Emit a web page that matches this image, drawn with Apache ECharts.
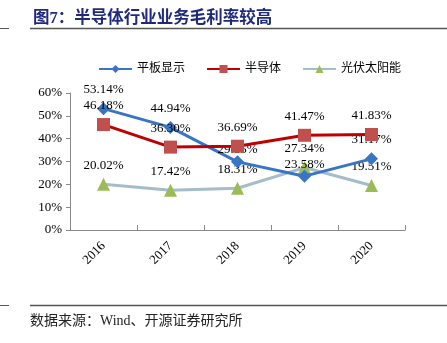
<!DOCTYPE html>
<html><head><meta charset="utf-8">
<script src="https://cdn.jsdelivr.net/npm/echarts@6/dist/echarts.min.js"></script>
<style>html,body{margin:0;padding:0;background:#fff}#c{width:447px;height:343px}</style>
</head><body><div id="c"></div>
<script>
const categories = ['2016','2017','2018','2019','2020'];
const seriesNames = ['平板显示','半导体','光伏太阳能'];
const panel = [53.14, 44.94, 29.85, 23.58, 31.17];
const semi = [46.18, 36.30, 36.69, 41.47, 41.83];
const solar = [20.02, 17.42, 18.31, 27.34, 19.51];
const yTicks = [0,10,20,30,40,50,60];

const serif = '"Times New Roman","Liberation Serif","Noto Sans CJK SC",serif';
const cjk = '"Liberation Serif","Noto Sans CJK SC",serif';
const chart = echarts.init(document.getElementById('c'));
function lbl(extra){return Object.assign({show:true,position:'top',distance:6,color:'#000',fontFamily:serif,fontSize:13,formatter:p=>p.value.toFixed(2)+'%'},extra||{});}
chart.setOption({
  animation:false,
  title:{text:'图7：半导体行业业务毛利率较高',left:28,top:5,textStyle:{fontFamily:cjk,fontSize:16.5,fontWeight:'bold',color:'#1F2A7C'}},
  graphic:[
    {type:'line',shape:{x1:0,y1:28.5,x2:9,y2:28.5},style:{stroke:'#555',lineWidth:1}},
    {type:'line',shape:{x1:30,y1:28.5,x2:447,y2:28.5},style:{stroke:'#555',lineWidth:1.5}},
    {type:'line',shape:{x1:0,y1:305.5,x2:9,y2:305.5},style:{stroke:'#555',lineWidth:1}},
    {type:'line',shape:{x1:30,y1:305.5,x2:447,y2:305.5},style:{stroke:'#555',lineWidth:1.5}},
    {type:'text',left:30,top:314,style:{text:'数据来源：Wind、开源证券研究所',font:'14px '+cjk,fill:'#222'}}
  ],
  legend:{left:93,top:58,itemWidth:33,itemHeight:10,itemGap:21,data:seriesNames,textStyle:{fontFamily:cjk,fontSize:12,color:'#000'}},
  grid:{left:70,right:42,top:93,bottom:113},
  xAxis:{type:'category',data:categories,boundaryGap:true,
    axisLine:{lineStyle:{color:'#888',width:1}},
    axisTick:{show:true,inside:true,length:5,lineStyle:{color:'#888'}},
    axisLabel:{rotate:45,margin:14,color:'#000',fontFamily:serif,fontSize:13}},
  yAxis:{type:'value',min:0,max:60,interval:10,
    axisLine:{show:true,lineStyle:{color:'#888'}},
    axisTick:{show:true,length:4,lineStyle:{color:'#888'}},
    splitLine:{show:false},
    axisLabel:{margin:8,color:'#000',fontFamily:serif,fontSize:13,formatter:v=>yTicks.includes(v)?v+'%':''}},
  series:[
    {name:seriesNames[0],type:'line',data:panel.map((v,i)=>({value:v,label:lbl(i===2||i===3?{offset:[0,7]}:{})})),symbol:'diamond',symbolSize:13,
      lineStyle:{color:'#3A75C4',width:3},itemStyle:{color:'#3A75C4'},label:lbl(),z:3},
    {name:seriesNames[1],type:'line',data:semi,symbol:'rect',symbolSize:13,
      lineStyle:{color:'#C00000',width:3},itemStyle:{color:'#C0504D'},label:lbl(),z:4},
    {name:seriesNames[2],type:'line',data:solar,symbol:'triangle',symbolSize:13,
      lineStyle:{color:'#A5BCCB',width:3},itemStyle:{color:'#9BBB59'},label:lbl(),z:2}
  ]
});
</script></body></html>
